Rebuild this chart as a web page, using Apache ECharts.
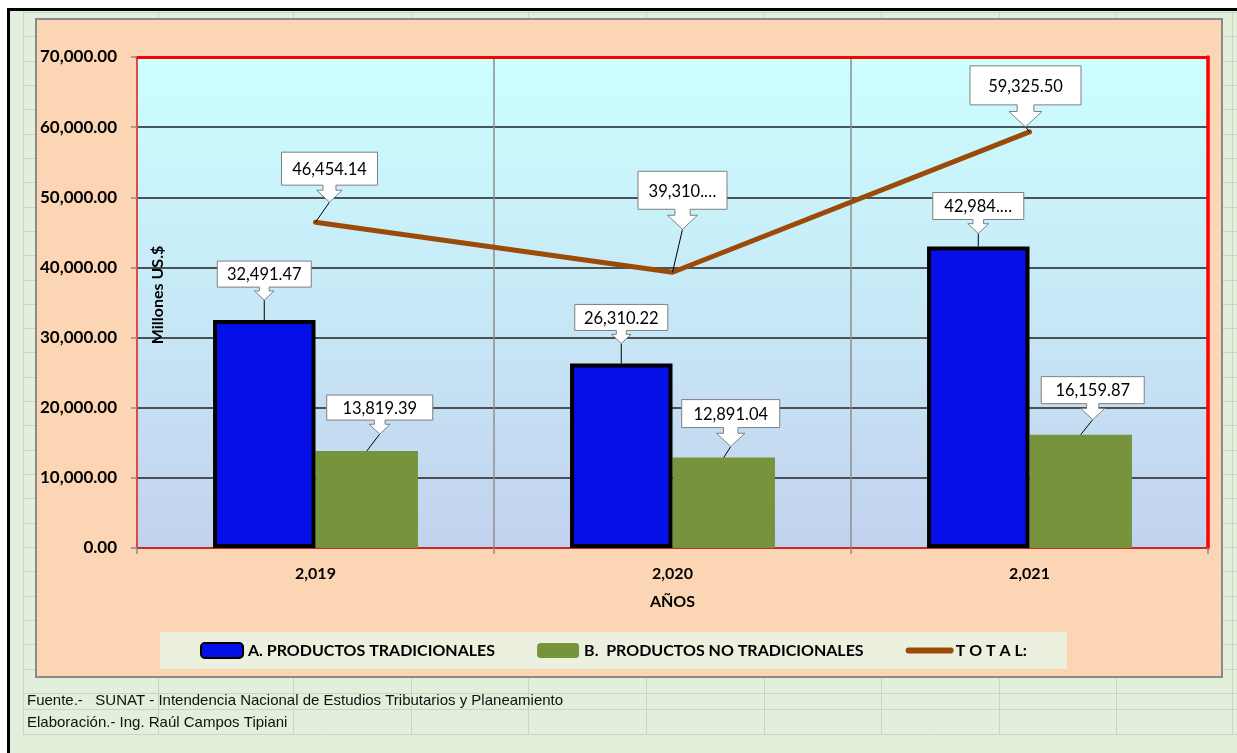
<!DOCTYPE html>
<html>
<head>
<meta charset="utf-8">
<title>Exportaciones</title>
<script src="https://cdn.jsdelivr.net/npm/echarts@6/dist/echarts.min.js"></script>
<style>
  html, body { margin: 0; padding: 0; background: #fff; }
  #chart { width: 1237px; height: 753px; }
</style>
</head>
<body>
<div id="chart"></div>
<script>
// datos del gráfico
let years = ['2,019', '2,020', '2,021']
let tradicionales = [32491.47, 26310.22, 42984.45]
let noTradicionales = [13819.39, 12891.04, 16159.87]
let total = [46454.14, 39310.15, 59325.50]
let yMin = 0
let yMax = 70000
let yStep = 10000

let NAME_A = 'A. PRODUCTOS TRADICIONALES'
let NAME_B = 'B.  PRODUCTOS NO TRADICIONALES'
let NAME_T = 'T O T A L:'

// posición de cada globo: [dx, dy de la punta, ancho, alto, largo flecha, recortado]
let layoutA = [[0, -20, 94, 26, 13], [0, -20, 93, 26, 13], [0, -13, 91, 27, 14, true]]
let layoutB = [[13, -17, 106, 25, 14], [7, -11, 98, 28, 19], [12, -15, 103, 27, 16]]
let layoutT = [[14, -20, 96, 33, 17], [10, -43, 89, 38, 20, true], [-4, -5, 111, 39, 22]]

let BAR = 0.287
let FONT = 'Lato, "Open Sans", sans-serif'

let fmt = v => v.toLocaleString('en-US', { minimumFractionDigits: 2, maximumFractionDigits: 2 })

// globo con flecha hacia abajo, dibujado desde la escala del eje
let callout = (values, layout, shift) => ({
  type: 'custom',
  coordinateSystem: 'cartesian2d',
  z: 10,
  clip: false,
  silent: true,
  data: values.map((v, i) => [i, v]),
  renderItem: (params, api) => {
    let [dx, dy, w, h, len, cut] = layout[params.dataIndex]
    let p = api.coord([api.value(0), api.value(1)])
    let ax = p[0] + shift * api.size([1, 0])[0] * BAR
    let ay = p[1]
    let tx = ax + dx
    let ty = ay + dy
    let neck = ty - len * 0.7
    let bottom = ty - len
    let top = bottom - h
    let l = tx - w / 2
    let r = tx + w / 2
    let hw = len * 0.75
    let sw = len * 0.38
    let txt = fmt(api.value(1))
    if (cut) txt = txt.slice(0, 7) + '…'
    return {
      type: 'group',
      children: [
        { type: 'polyline', shape: { points: [[ax, ay], [tx, ty]] }, style: { stroke: '#000', lineWidth: 1, fill: null } },
        {
          type: 'polygon',
          shape: { points: [[l, top], [r, top], [r, bottom], [tx + sw, bottom], [tx + sw, neck], [tx + hw, neck], [tx, ty],
            [tx - hw, neck], [tx - sw, neck], [tx - sw, bottom], [l, bottom]] },
          style: { fill: '#fff', stroke: '#7F7F7F', lineWidth: 1 }
        },
        { type: 'text', style: { text: txt, x: tx, y: top + h / 2 + 1, align: 'center', verticalAlign: 'middle', font: '16.5px ' + FONT, fill: '#000' } }
      ]
    }
  }
})

// cuadrícula de la hoja de cálculo (fondo)
let sheet = [
  { type: 'rect', z: -30, shape: { x: 0, y: 0, width: 1237, height: 753 }, style: { fill: '#fff' } },
  { type: 'rect', z: -29, shape: { x: 10, y: 11, width: 1227, height: 742 }, style: { fill: '#E2EFDA' } },
  { type: 'line', z: -28, shape: { x1: 7, y1: 9.5, x2: 1237, y2: 9.5 }, style: { stroke: '#000', lineWidth: 3 } },
  { type: 'line', z: -28, shape: { x1: 8.5, y1: 8, x2: 8.5, y2: 753 }, style: { stroke: '#000', lineWidth: 3 } }
]
let rowsY = []
for (let k = 0; k <= 28; k++) rowsY.push(Math.round(12 + k * 24.32) + 0.5)
rowsY.push(709.5, 734.5)
rowsY.forEach(y => sheet.push({ type: 'line', z: -28, shape: { x1: 23, y1: y, x2: 1237, y2: y }, style: { stroke: '#CCD3C6', lineWidth: 1 } }))
let colsX = [23, 158, 293, 411, 528, 646, 764, 881, 999, 1116, 1232]
colsX.forEach(x => sheet.push({ type: 'line', z: -28, shape: { x1: x + 0.5, y1: 12, x2: x + 0.5, y2: 734 }, style: { stroke: '#CCD3C6', lineWidth: 1 } }))

// área del gráfico
sheet.push({ type: 'rect', z: -20, shape: { x: 36, y: 19, width: 1186, height: 658 }, style: { fill: '#FCD5B4', stroke: '#8A8A8A', lineWidth: 2 } })
// título del eje Y, dentro del área de trazado
sheet.push({ type: 'text', z: 20, x: 158, y: 295, rotation: Math.PI / 2, style: { text: 'Millones US.$', align: 'center', verticalAlign: 'middle', font: 'bold 16px ' + FONT, fill: '#000' } })
sheet.push({ type: 'text', z: 5, style: { text: 'Fuente.-   SUNAT - Intendencia Nacional de Estudios Tributarios y Planeamiento', x: 27, y: 701, verticalAlign: 'middle', font: '15px "Liberation Sans", Arial, sans-serif', fill: '#111' } })
sheet.push({ type: 'text', z: 5, style: { text: 'Elaboración.- Ing. Raúl Campos Tipiani', x: 27, y: 723, verticalAlign: 'middle', font: '15px "Liberation Sans", Arial, sans-serif', fill: '#111' } })

let option = {
  animation: false,
  backgroundColor: 'transparent',
  graphic: { elements: sheet },
  grid: {
    left: 137, top: 57, right: 29, bottom: 205,
    show: true,
    borderWidth: 0,
    backgroundColor: new echarts.graphic.LinearGradient(0, 0, 0, 1, [
      { offset: 0, color: '#CCFFFF' },
      { offset: 1, color: '#C2D2EE' }
    ])
  },
  legend: {
    data: [
      NAME_A,
      NAME_B,
      { name: NAME_T, itemStyle: { color: 'transparent', borderWidth: 0, opacity: 0 }, lineStyle: { width: 6, cap: 'round' } }
    ],
    left: 160, top: 632,
    padding: [10, 40, 10, 40],
    itemGap: 42, itemWidth: 42, itemHeight: 15,
    backgroundColor: '#EBF1DE',
    selectedMode: false,
    textStyle: { fontFamily: FONT, fontWeight: 'bold', fontSize: 16, color: '#000' }
  },
  xAxis: [{
    type: 'category',
    data: years,
    name: 'AÑOS',
    nameLocation: 'middle',
    nameGap: 46,
    nameTextStyle: { fontFamily: FONT, fontWeight: 'bold', fontSize: 16, color: '#000' },
    axisLine: { lineStyle: { color: '#F02020', width: 1.5 } },
    axisTick: { show: true, length: 6, lineStyle: { color: '#8C8C8C', width: 1.5 } },
    axisLabel: { margin: 18, fontFamily: FONT, fontWeight: 'bold', fontSize: 16, color: '#000' },
    splitLine: { show: true, lineStyle: { color: '#8E8E8E', width: 1.5 } }
  }, {
    type: 'category',
    data: years,
    position: 'top',
    axisLine: { onZero: false, lineStyle: { color: '#FF0000', width: 3 } },
    axisTick: { show: false },
    axisLabel: { show: false },
    splitLine: { show: false }
  }],
  yAxis: [{
    type: 'value',
    min: yMin, max: yMax, interval: yStep,
    axisLine: { show: true, lineStyle: { color: '#F03030', width: 1.5 } },
    axisTick: { show: true, length: 6, lineStyle: { color: '#8C8C8C', width: 1.5 } },
    axisLabel: { margin: 20, fontFamily: FONT, fontWeight: 'bold', fontSize: 17, color: '#000', formatter: v => fmt(v) },
    splitLine: { show: true, lineStyle: { color: '#1F1F1F', width: 1.5 } }
  }, {
    type: 'value',
    min: yMin, max: yMax, interval: yStep,
    position: 'right',
    axisLine: { show: true, onZero: false, lineStyle: { color: '#FF0000', width: 3.5 } },
    axisTick: { show: false },
    axisLabel: { show: false },
    splitLine: { show: false }
  }],
  series: [
    {
      name: NAME_A,
      type: 'bar',
      data: tradicionales,
      barWidth: (BAR * 100) + '%',
      barGap: '0%',
      z: 3,
      itemStyle: { color: '#0510E8', borderColor: '#000', borderWidth: 4 }
    },
    {
      name: NAME_B,
      type: 'bar',
      data: noTradicionales,
      barWidth: (BAR * 100) + '%',
      barGap: '0%',
      z: 2,
      itemStyle: { color: '#77933C' }
    },
    {
      name: NAME_T,
      type: 'line',
      data: total,
      symbol: 'none',
      z: 5,
      lineStyle: { color: '#9B4A08', width: 5, cap: 'round' },
      itemStyle: { color: '#9B4A08' }
    },
    callout(tradicionales, layoutA, -0.5),
    callout(noTradicionales, layoutB, 0.5),
    callout(total, layoutT, 0)
  ]
}

let chart = echarts.init(document.getElementById('chart'))
chart.setOption(option)
</script>
</body>
</html>
